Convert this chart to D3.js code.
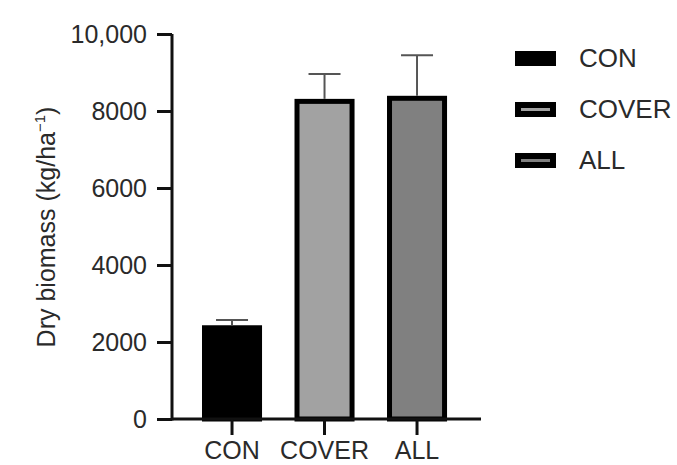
<!DOCTYPE html>
<html>
<head>
<meta charset="utf-8">
<script src="https://cdn.jsdelivr.net/npm/d3@7"></script>
<style>
  body { margin: 0; background: #fff; }
  text { font-family: "Liberation Sans", Arial, sans-serif; fill: #2a2a2a; }
</style>
</head>
<body>
<div id="chart"></div>
<script>
const categories = ['CON', 'COVER', 'ALL']
const means = [2370, 8250, 8330]
const errors = [200, 710, 1120]
const fills = ['#000000', '#a2a2a2', '#808080']
const yTicks = [0, 2000, 4000, 6000, 8000, 10000]

const width = 677
const height = 465

const svg = d3
  .select('#chart')
  .append('svg')
  .attr('width', width)
  .attr('height', height)

const x = d3
  .scaleBand()
  .domain(categories)
  .range([174.25, 474.8])
  .paddingInner(0.351)
  .paddingOuter(0.3)

const y = d3.scaleLinear().domain([0, 10000]).range([419, 34])

// bars
svg
  .selectAll('.bar')
  .data(categories)
  .enter()
  .append('rect')
  .attr('class', 'bar')
  .attr('x', d => x(d) + 2.5)
  .attr('width', x.bandwidth() - 5)
  .attr('y', (d, i) => y(means[i]))
  .attr('height', (d, i) => y(0) - y(means[i]))
  .attr('fill', (d, i) => fills[i])
  .attr('stroke', '#000')
  .attr('stroke-width', 5)

// error bars
const err = svg
  .selectAll('.err')
  .data(categories)
  .enter()
  .append('g')
  .attr('class', 'err')
  .attr('stroke', '#555')
  .attr('stroke-width', 2)

err
  .append('line')
  .attr('x1', d => x(d) + x.bandwidth() / 2)
  .attr('x2', d => x(d) + x.bandwidth() / 2)
  .attr('y1', (d, i) => y(means[i]) - 2.5)
  .attr('y2', (d, i) => y(means[i] + errors[i]))

err
  .append('line')
  .attr('x1', d => x(d) + x.bandwidth() / 2 - 16)
  .attr('x2', d => x(d) + x.bandwidth() / 2 + 16)
  .attr('y1', (d, i) => y(means[i] + errors[i]))
  .attr('y2', (d, i) => y(means[i] + errors[i]))

// axes
const yAxis = svg
  .append('g')
  .attr('transform', 'translate(172,0)')
  .call(
    d3
      .axisLeft(y)
      .tickValues(yTicks)
      .tickSize(15)
      .tickPadding(10)
      .tickFormat(d => (d === 10000 ? '10,000' : d))
  )

const xAxis = svg
  .append('g')
  .attr('transform', 'translate(0,419)')
  .call(d3.axisBottom(x).tickSize(16).tickPadding(6))

xAxis.select('.domain').attr('d', 'M172,0H481')
yAxis.select('.domain').attr('d', 'M0,34V420.5')

svg.selectAll('.domain').attr('stroke', '#111').attr('stroke-width', 3)
svg.selectAll('.tick line').attr('stroke', '#111').attr('stroke-width', 3)
svg
  .selectAll('.tick text')
  .style('font-family', '"Liberation Sans", Arial, sans-serif')
  .attr('fill', '#2a2a2a')
yAxis.selectAll('.tick text').style('font-size', '25px')
xAxis.selectAll('.tick text').style('font-size', '25px')

// y label
const yLabel = svg
  .append('text')
  .attr('transform', 'translate(55,227) rotate(-90)')
  .attr('text-anchor', 'middle')
  .style('font-size', '25px')
yLabel.append('tspan').text('Dry biomass (kg/ha')
yLabel.append('tspan').attr('dy', -10).style('font-size', '15px').text('\u22121')
yLabel.append('tspan').attr('dy', 10).text(')')

// legend
const legend = svg
  .selectAll('.legend')
  .data(categories)
  .enter()
  .append('g')
  .attr('class', 'legend')
  .attr('transform', (d, i) => 'translate(515,' + (51 + i * 51) + ')')

legend
  .append('rect')
  .attr('x', 3)
  .attr('y', 3)
  .attr('width', 35)
  .attr('height', 9)
  .attr('fill', (d, i) => fills[i])
  .attr('stroke', '#000')
  .attr('stroke-width', 6)

legend
  .append('text')
  .attr('x', 64)
  .attr('y', 16)
  .style('font-size', '26px')
  .text(d => d)
</script>
</body>
</html>
